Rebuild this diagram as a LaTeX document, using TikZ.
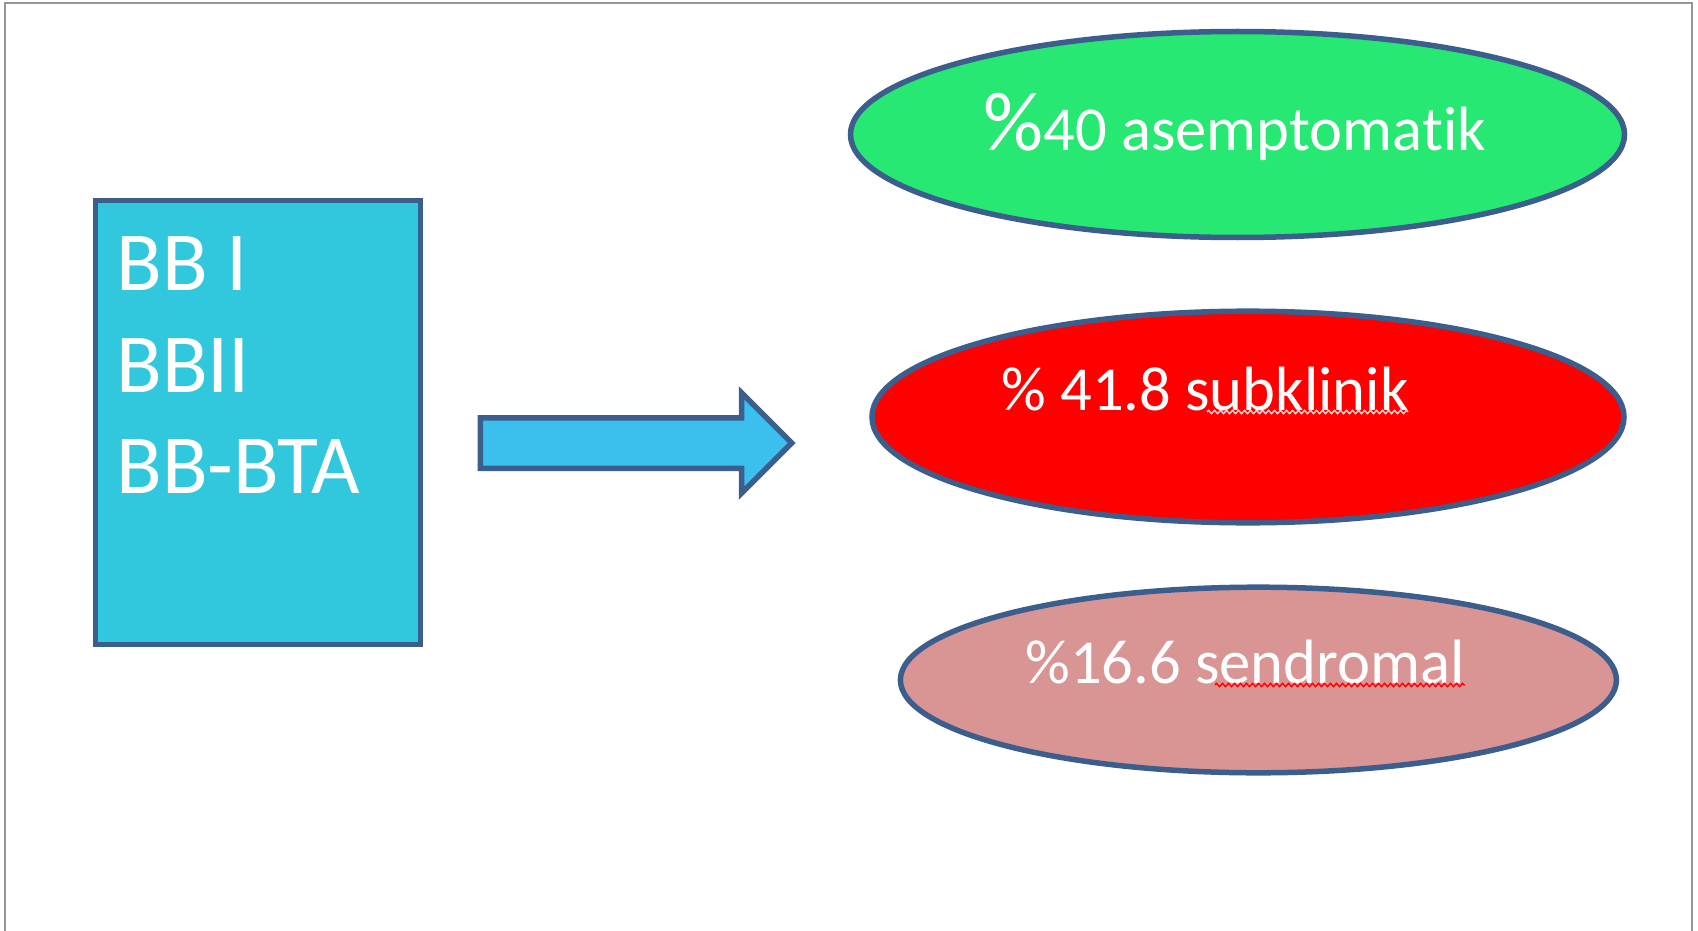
\documentclass[tikz,border=0pt]{standalone}
\usepackage{fontspec}
\setmainfont{Carlito}[Ligatures={NoCommon,NoContextual}]
\usetikzlibrary{positioning,shapes.geometric,shapes.arrows,decorations.pathmorphing}
\definecolor{edgeblue}{RGB}{59,94,140}
\definecolor{boxcyan}{RGB}{49,200,221}
\definecolor{arrowblue}{RGB}{58,191,239}
\definecolor{pctgreen}{RGB}{39,232,115}
\definecolor{pctred}{RGB}{255,0,0}
\definecolor{pctpink}{RGB}{217,149,148}
\definecolor{framegray}{RGB}{150,150,150}

\begin{document}
\begin{tikzpicture}[x=0.5pt, y=-0.5pt,
				group/.style={rectangle, draw=edgeblue, line width=2.75pt, fill=boxcyan, minimum width=162.5pt, minimum height=222pt, inner sep=0pt},
				result/.style={ellipse, draw=edgeblue, line width=2.75pt, inner sep=0pt},
				fatarrow/.style={single arrow, draw=edgeblue, line width=2.75pt, fill=arrowblue, minimum height=155.75pt, inner xsep=0pt, inner ysep=11.25pt, single arrow head extend=12.5pt},
				grouptext/.style={text=white, font=\fontsize{42}{42}\selectfont, inner sep=0pt, anchor=base west},
				pcttext/.style={text=white, font=\fontsize{31.3}{31.3}\selectfont, inner sep=0pt, anchor=base west},
				squiggle/.style={line width=0.7pt, decorate, decoration={zigzag, amplitude=0.8pt, segment length=3pt}}
			]
			\useasboundingbox (0,0) rectangle (1698,931);
			\draw[framegray, line width=1.2pt] (5,935) -- (5,3) -- (1692,3) -- (1692,935);
			\node[group] (groups) at (258,422.5) {};
			\node[grouptext] (bb1) at (116,290) {BB I};
			\node[grouptext] (bb2) at (116,392) {BBII};
			\node[grouptext] (bb3) at (116,493) {BB-BTA};
			\node[fatarrow, anchor=tail] (split) at (477.5,443) {};
			\node[result, fill=pctgreen, minimum width=387pt, minimum height=103pt] (asym) at (1237.5,134.5) {};
			\node[result, fill=pctred, minimum width=376pt, minimum height=105.8pt] (subc) at (1248,417) {};
			\node[result, fill=pctpink, minimum width=358pt, minimum height=92.8pt] (synd) at (1258.4,680) {};
			\node[pcttext] (asymtext) at (983,150) {{\fontsize{42}{42}\selectfont\%}40 asemptomatik};
			\node[pcttext] (subctext) at (1001,410) {\% 41.8 subklinik};
			\node[pcttext] (syndtext) at (1025,683) {\%16.6 sendromal};
			\draw[squiggle, white!85!red] (1207,412) -- (1408,412);
			\draw[squiggle, pctred] (1215,685) -- (1465,685);
			\end{tikzpicture}
\end{document}
